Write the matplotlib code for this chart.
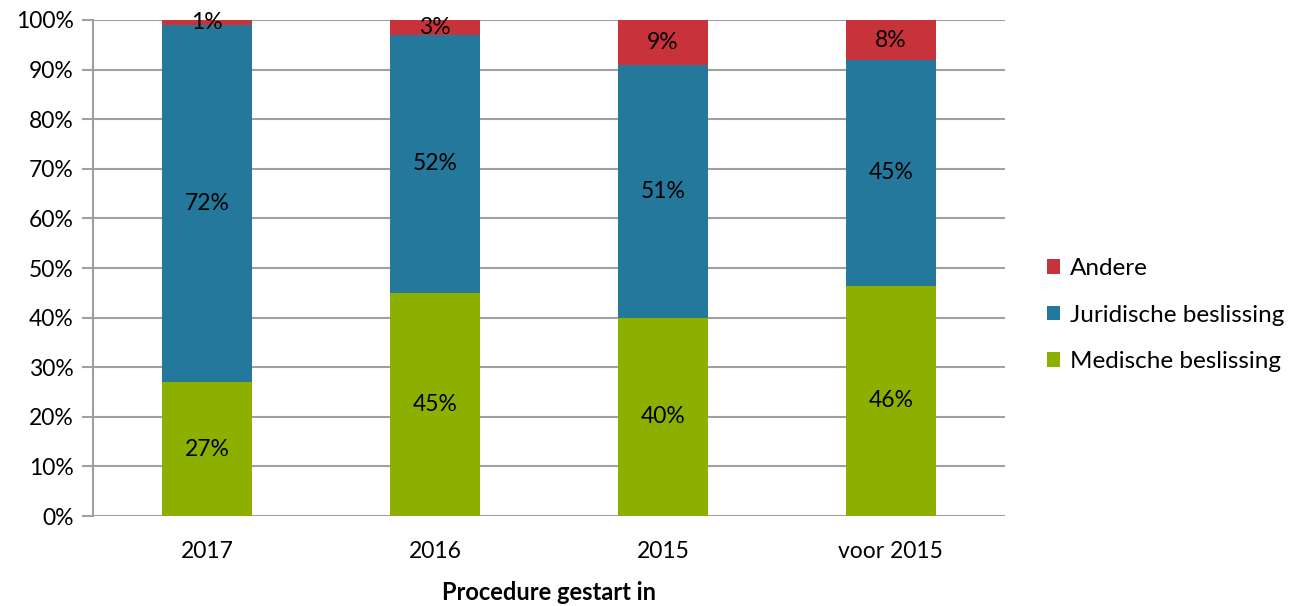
import matplotlib
matplotlib.use("Agg")
import matplotlib.pyplot as plt
import numpy as np

plt.rcParams['font.family'] = ['Lato', 'DejaVu Sans']

categories = ["2017", "2016", "2015", "voor 2015"]
medische = [27, 45, 40, 46]
juridische = [72, 52, 51, 45]
andere = [1, 3, 9, 8]
series_names = ["Medische beslissing", "Juridische beslissing", "Andere"]
colors = ["#8DB000", "#23789C", "#C8323A"]

data = np.array([medische, juridische, andere], dtype=float)
totals = data.sum(axis=0)
shares = data / totals * 100

fig = plt.figure(figsize=(13, 6.06), dpi=100)
ax = fig.add_axes([0.0715, 0.1485, 0.7015, 0.8185])

FS = 16.5
x = np.arange(len(categories))
bottom = np.zeros(len(categories))
handles = []
for i in range(3):
    h = ax.bar(x, shares[i], 0.395, bottom=bottom, color=colors[i], zorder=3,
               label=series_names[i])
    handles.append(h)
    for j in range(len(categories)):
        ax.text(x[j], bottom[j] + shares[i][j] / 2, f"{int(data[i][j])}%",
                ha='center', va='center', fontsize=FS, color='black', zorder=4)
    bottom += shares[i]

ax.set_xlim(-0.5, 3.5)
ax.set_ylim(0, 100)
ax.set_yticks(np.arange(0, 101, 10))
ax.set_yticklabels([f"{v}%" for v in range(0, 101, 10)], fontsize=FS)
ax.set_xticks(x)
ax.set_xticklabels(categories, fontsize=FS)
ax.tick_params(axis='x', length=0, pad=18)
ax.tick_params(axis='y', length=8, color='#A0A0A0', width=1.5, pad=6)
ax.yaxis.grid(True, color='#A0A0A0', linewidth=1.5, zorder=0)
for s in ['top', 'right', 'bottom']:
    ax.spines[s].set_visible(False)
ax.spines['left'].set_color('#A0A0A0')
ax.spines['left'].set_linewidth(1.5)
ax.set_xlabel("Procedure gestart in", fontsize=17, fontweight='bold', labelpad=14)

leg = fig.legend(handles[::-1], series_names[::-1], loc='center left',
                 bbox_to_anchor=(0.805, 0.48), frameon=False, fontsize=17.5,
                 handlelength=0.55, handleheight=0.55, handletextpad=0.4,
                 labelspacing=1.05, borderpad=0, borderaxespad=0)

fig.savefig("out.png", dpi=100)
